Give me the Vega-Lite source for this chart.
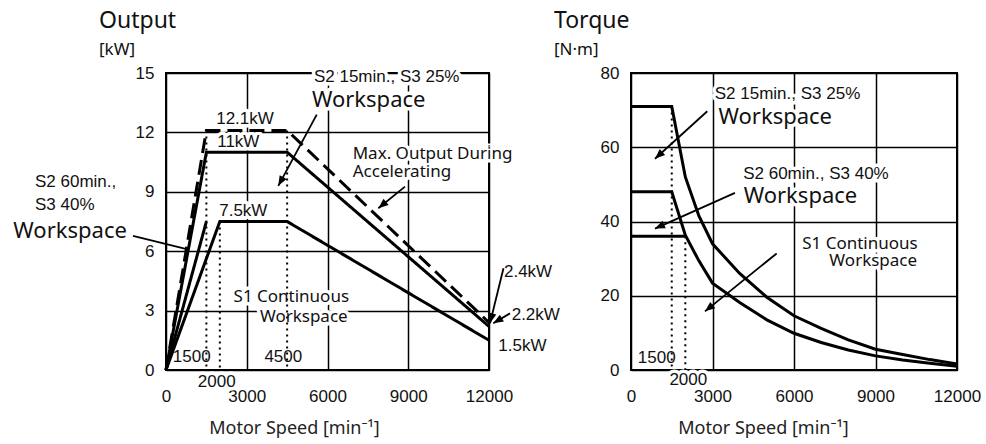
{
  "$schema": "https://vega.github.io/schema/vega-lite/v6.json",
  "padding": {"left": 12, "top": 9, "right": 5, "bottom": 5},
  "background": "white",
  "bounds": "flush",
  "spacing": 142,
  "config": {
    "view": {"stroke": "black", "strokeWidth": 2},
    "axis": {"grid": true, "gridColor": "black", "gridWidth": 1.5, "gridOpacity": 1, "domain": false, "ticks": false, "format": "d", "labelFlush": false,
      "labelFont": "Liberation Sans", "labelFontSize": 17, "labelColor": "#111",
      "titleFont": "Noto Sans", "titleFontWeight": "normal", "titleFontSize": 18, "titleColor": "#222"},
    "axisX": {"labelPadding": 18, "titleBaseline": "middle", "titleY": 58},
    "axisY": {"labelPadding": 12},
    "title": {"anchor": "start", "frame": "group", "font": "Noto Sans", "fontSize": 23, "fontWeight": "normal", "color": "#111",
      "subtitleFont": "Noto Sans", "subtitleFontSize": 17, "subtitleColor": "#111", "offset": 6, "subtitlePadding": 9}
  },
  "datasets": {
    "curvesL": [
      {"series": "S1", "i": 0, "x": 0, "y": 0}, {"series": "S1", "i": 1, "x": 2000, "y": 7.5}, {"series": "S1", "i": 2, "x": 4500, "y": 7.5}, {"series": "S1", "i": 3, "x": 12000, "y": 1.5},
      {"series": "S1b", "i": 0, "x": 0, "y": 0}, {"series": "S1b", "i": 1, "x": 1500, "y": 7.5},
      {"series": "S2_60", "i": 0, "x": 0, "y": 0}, {"series": "S2_60", "i": 1, "x": 1500, "y": 11}, {"series": "S2_60", "i": 2, "x": 4500, "y": 11}, {"series": "S2_60", "i": 3, "x": 12000, "y": 2.2},
      {"series": "Accel", "i": 0, "x": 0, "y": 0}, {"series": "Accel", "i": 1, "x": 1500, "y": 12.1}, {"series": "Accel", "i": 2, "x": 4500, "y": 12.1}, {"series": "Accel", "i": 3, "x": 12000, "y": 2.4}
    ],
    "dotsL": [
      {"x": 1500, "y": 12.1, "y2": 0}, {"x": 2000, "y": 7.5, "y2": 0}, {"x": 4500, "y": 12.1, "y2": 0}
    ],
    "arrowsL": [
      {"id": "a1", "x": 4172, "y": 9.3, "x2": 5600, "y2": 12.9},
      {"id": "a2", "x": 7888, "y": 8.17, "x2": 8879, "y2": 9.26},
      {"id": "a3", "x": 12037, "y": 2.36, "x2": 12538, "y2": 5.14},
      {"id": "a4", "x": 12160, "y": 2.36, "x2": 12780, "y2": 2.86},
      {"id": "a5", "x": 769, "y": 6.1, "x2": -1226, "y2": 6.77}
    ],
    "textL": [
      {"kind": "note", "text": "12.1kW", "x": 2935, "y": 12.7},
      {"kind": "note", "text": "11kW", "x": 2686, "y": 11.5},
      {"kind": "note", "text": "7.5kW", "x": 2873, "y": 8.05},
      {"kind": "note", "text": "S2 15min., S3 25%", "x": 8199, "y": 14.8},
      {"kind": "note", "text": "1500", "x": 955, "y": 0.67},
      {"kind": "note", "text": "4500", "x": 4358, "y": 0.67},
      {"kind": "note", "text": "2000", "x": 1883, "y": -0.6},
      {"kind": "noteL", "text": "S2 60min.,", "x": -4867, "y": 9.51},
      {"kind": "noteL", "text": "S3 40%", "x": -4867, "y": 8.33},
      {"kind": "noteL", "text": "2.4kW", "x": 12557, "y": 4.96},
      {"kind": "noteL", "text": "2.2kW", "x": 12843, "y": 2.78},
      {"kind": "noteL", "text": "1.5kW", "x": 12345, "y": 1.2},
      {"kind": "big", "text": "Workspace", "x": 7530, "y": 13.64},
      {"kind": "bigL", "text": "Workspace", "x": -5673, "y": 7.02},
      {"kind": "mid", "text": "S1 Continuous", "x": 4655, "y": 3.7},
      {"kind": "mid", "text": "Workspace", "x": 5119, "y": 2.7},
      {"kind": "midL", "text": "Max. Output During", "x": 6936, "y": 10.9},
      {"kind": "midL", "text": "Accelerating", "x": 6936, "y": 10.02}
    ],
    "curvesR": [
      {"series": "S2_15", "i": 0, "x": 0, "y": 71}, {"series": "S2_15", "i": 1, "x": 1500, "y": 71}, {"series": "S2_15", "i": 2, "x": 2000, "y": 52},
      {"series": "S2_15", "i": 3, "x": 2500, "y": 41.5}, {"series": "S2_15", "i": 4, "x": 3000, "y": 34}, {"series": "S2_15", "i": 5, "x": 4000, "y": 26},
      {"series": "S2_15", "i": 6, "x": 5000, "y": 19.6}, {"series": "S2_15", "i": 7, "x": 6000, "y": 14.6}, {"series": "S2_15", "i": 8, "x": 7000, "y": 11.2},
      {"series": "S2_15", "i": 9, "x": 8000, "y": 8.1}, {"series": "S2_15", "i": 10, "x": 9000, "y": 5.6}, {"series": "S2_15", "i": 11, "x": 10000, "y": 4.2},
      {"series": "S2_15", "i": 12, "x": 11000, "y": 2.8}, {"series": "S2_15", "i": 13, "x": 12000, "y": 1.6},
      {"series": "S2_60", "i": 0, "x": 0, "y": 48}, {"series": "S2_60", "i": 1, "x": 1500, "y": 48}, {"series": "S2_60", "i": 2, "x": 2000, "y": 36.3},
      {"series": "S2_60", "i": 3, "x": 2500, "y": 29.4}, {"series": "S2_60", "i": 4, "x": 3000, "y": 23.4}, {"series": "S2_60", "i": 5, "x": 4000, "y": 18.2},
      {"series": "S2_60", "i": 6, "x": 5000, "y": 13.5}, {"series": "S2_60", "i": 7, "x": 6000, "y": 9.9}, {"series": "S2_60", "i": 8, "x": 7000, "y": 7.4},
      {"series": "S2_60", "i": 9, "x": 8000, "y": 5.4}, {"series": "S2_60", "i": 10, "x": 9000, "y": 3.8}, {"series": "S2_60", "i": 11, "x": 10000, "y": 2.7},
      {"series": "S2_60", "i": 12, "x": 11000, "y": 1.8}, {"series": "S2_60", "i": 13, "x": 12000, "y": 1.0},
      {"series": "S1", "i": 0, "x": 0, "y": 36}, {"series": "S1", "i": 1, "x": 2000, "y": 36}
    ],
    "dotsR": [
      {"x": 1500, "y": 71, "y2": 0}, {"x": 2000, "y": 36, "y2": 0}
    ],
    "arrowsR": [
      {"id": "b1", "x": 883, "y": 56.9, "x2": 2808, "y2": 69.7},
      {"id": "b2", "x": 883, "y": 38.1, "x2": 3827, "y2": 47.7},
      {"id": "b3", "x": 2723, "y": 15.8, "x2": 5362, "y2": 31.4}
    ],
    "textR": [
      {"kind": "note", "text": "S2 15min., S3 25%", "x": 5760, "y": 74.3},
      {"kind": "note", "text": "S2 60min., S3 40%", "x": 6808, "y": 52.8},
      {"kind": "note", "text": "1500", "x": 946, "y": 3.2},
      {"kind": "note", "text": "2000", "x": 2109, "y": -2.7},
      {"kind": "big", "text": "Workspace", "x": 5310, "y": 68.2},
      {"kind": "big", "text": "Workspace", "x": 6238, "y": 47.0},
      {"kind": "mid", "text": "S1 Continuous", "x": 8427, "y": 33.9},
      {"kind": "mid", "text": "Workspace", "x": 8917, "y": 29.3}
    ]
  },
  "hconcat": [
    {
      "width": 323,
      "height": 297,
      "title": {"text": "Output", "subtitle": "[kW]", "dx": -67},
      "encoding": {
        "x": {"field": "x", "type": "quantitative", "scale": {"domain": [0, 12000], "nice": false, "zero": false},
          "axis": {"values": [0, 3000, 6000, 9000, 12000], "title": "Motor Speed  [min⁻¹]", "titleX": 128}},
        "y": {"field": "y", "type": "quantitative", "scale": {"domain": [0, 15], "nice": false, "zero": false},
          "axis": {"values": [0, 3, 6, 9, 12, 15], "title": null}}
      },
      "layer": [
        {"data": {"name": "textL"}, "transform": [{"filter": "datum.kind == 'note'"}], "mark": {"type": "text", "font": "Liberation Sans", "fontSize": 17, "align": "center", "baseline": "middle", "fill": "white", "stroke": "white", "strokeWidth": 7, "strokeJoin": "round"}, "encoding": {"text": {"field": "text"}}},
        {"data": {"name": "textL"}, "transform": [{"filter": "datum.kind == 'noteL'"}], "mark": {"type": "text", "font": "Liberation Sans", "fontSize": 17, "align": "left", "baseline": "middle", "fill": "white", "stroke": "white", "strokeWidth": 7, "strokeJoin": "round"}, "encoding": {"text": {"field": "text"}}},
        {"data": {"name": "textL"}, "transform": [{"filter": "datum.kind == 'big'"}], "mark": {"type": "text", "font": "Noto Sans", "fontSize": 22, "align": "center", "baseline": "middle", "fill": "white", "stroke": "white", "strokeWidth": 7, "strokeJoin": "round"}, "encoding": {"text": {"field": "text"}}},
        {"data": {"name": "textL"}, "transform": [{"filter": "datum.kind == 'mid'"}], "mark": {"type": "text", "font": "Noto Sans", "fontSize": 17, "align": "center", "baseline": "middle", "fill": "white", "stroke": "white", "strokeWidth": 7, "strokeJoin": "round"}, "encoding": {"text": {"field": "text"}}},
        {"data": {"name": "textL"}, "transform": [{"filter": "datum.kind == 'midL'"}], "mark": {"type": "text", "font": "Noto Sans", "fontSize": 17, "align": "left", "baseline": "middle", "fill": "white", "stroke": "white", "strokeWidth": 7, "strokeJoin": "round"}, "encoding": {"text": {"field": "text"}}},
        {"data": {"name": "curvesL"}, "mark": {"type": "line", "color": "black", "strokeWidth": 3, "strokeCap": "butt"},
          "encoding": {"detail": {"field": "series"}, "order": {"field": "i", "type": "quantitative"},
            "strokeDash": {"field": "series", "type": "nominal", "scale": {"domain": ["S1", "S1b", "S2_60", "Accel"], "range": [[1, 0], [1, 0], [1, 0], [15, 7]]}, "legend": null}}},
        {"data": {"name": "dotsL"}, "mark": {"type": "rule", "color": "black", "strokeWidth": 2, "strokeDash": [2, 4]}, "encoding": {"y2": {"field": "y2"}}},
        {"data": {"name": "arrowsL"}, "mark": {"type": "rule", "color": "black", "strokeWidth": 1.8}, "encoding": {"x2": {"field": "x2"}, "y2": {"field": "y2"}}},
        {"data": {"name": "arrowsL"}, "transform": [{"filter": "datum.id == 'a1'"}], "mark": {"type": "point", "shape": "M0,0L-0.4,1L0.4,1Z", "size": 400, "angle": -151, "filled": true, "color": "black", "opacity": 1}},
        {"data": {"name": "arrowsL"}, "transform": [{"filter": "datum.id == 'a2'"}], "mark": {"type": "point", "shape": "M0,0L-0.4,1L0.4,1Z", "size": 400, "angle": -129, "filled": true, "color": "black", "opacity": 1}},
        {"data": {"name": "arrowsL"}, "transform": [{"filter": "datum.id == 'a3'"}], "mark": {"type": "point", "shape": "M0,0L-0.4,1L0.4,1Z", "size": 400, "angle": -166, "filled": true, "color": "black", "opacity": 1}},
        {"data": {"name": "arrowsL"}, "transform": [{"filter": "datum.id == 'a4'"}], "mark": {"type": "point", "shape": "M0,0L-0.4,1L0.4,1Z", "size": 400, "angle": -121, "filled": true, "color": "black", "opacity": 1}},
        {"data": {"name": "textL"}, "transform": [{"filter": "datum.kind == 'note'"}], "mark": {"type": "text", "font": "Liberation Sans", "fontSize": 17, "align": "center", "baseline": "middle", "fill": "#111"}, "encoding": {"text": {"field": "text"}}},
        {"data": {"name": "textL"}, "transform": [{"filter": "datum.kind == 'noteL'"}], "mark": {"type": "text", "font": "Liberation Sans", "fontSize": 17, "align": "left", "baseline": "middle", "fill": "#111"}, "encoding": {"text": {"field": "text"}}},
        {"data": {"name": "textL"}, "transform": [{"filter": "datum.kind == 'big'"}], "mark": {"type": "text", "font": "Noto Sans", "fontSize": 22, "align": "center", "baseline": "middle", "fill": "#111"}, "encoding": {"text": {"field": "text"}}},
        {"data": {"name": "textL"}, "transform": [{"filter": "datum.kind == 'bigL'"}], "mark": {"type": "text", "font": "Noto Sans", "fontSize": 22, "align": "left", "baseline": "middle", "fill": "#111"}, "encoding": {"text": {"field": "text"}}},
        {"data": {"name": "textL"}, "transform": [{"filter": "datum.kind == 'mid'"}], "mark": {"type": "text", "font": "Noto Sans", "fontSize": 17, "align": "center", "baseline": "middle", "fill": "#111"}, "encoding": {"text": {"field": "text"}}},
        {"data": {"name": "textL"}, "transform": [{"filter": "datum.kind == 'midL'"}], "mark": {"type": "text", "font": "Noto Sans", "fontSize": 17, "align": "left", "baseline": "middle", "fill": "#111"}, "encoding": {"text": {"field": "text"}}}
      ]
    },
    {
      "width": 326,
      "height": 297,
      "title": {"text": "Torque", "subtitle": "[N·m]", "dx": -77},
      "encoding": {
        "x": {"field": "x", "type": "quantitative", "scale": {"domain": [0, 12000], "nice": false, "zero": false},
          "axis": {"values": [0, 3000, 6000, 9000, 12000], "title": "Motor Speed  [min⁻¹]", "titleX": 132}},
        "y": {"field": "y", "type": "quantitative", "scale": {"domain": [0, 80], "nice": false, "zero": false},
          "axis": {"values": [0, 20, 40, 60, 80], "title": null}}
      },
      "layer": [
        {"data": {"name": "textR"}, "transform": [{"filter": "datum.kind == 'note'"}], "mark": {"type": "text", "font": "Liberation Sans", "fontSize": 17, "align": "center", "baseline": "middle", "fill": "white", "stroke": "white", "strokeWidth": 7, "strokeJoin": "round"}, "encoding": {"text": {"field": "text"}}},
        {"data": {"name": "textR"}, "transform": [{"filter": "datum.kind == 'big'"}], "mark": {"type": "text", "font": "Noto Sans", "fontSize": 22, "align": "center", "baseline": "middle", "fill": "white", "stroke": "white", "strokeWidth": 7, "strokeJoin": "round"}, "encoding": {"text": {"field": "text"}}},
        {"data": {"name": "textR"}, "transform": [{"filter": "datum.kind == 'mid'"}], "mark": {"type": "text", "font": "Noto Sans", "fontSize": 17, "align": "center", "baseline": "middle", "fill": "white", "stroke": "white", "strokeWidth": 7, "strokeJoin": "round"}, "encoding": {"text": {"field": "text"}}},
        {"data": {"name": "curvesR"}, "mark": {"type": "line", "color": "black", "strokeWidth": 3, "strokeCap": "butt"},
          "encoding": {"detail": {"field": "series"}, "order": {"field": "i", "type": "quantitative"}}},
        {"data": {"name": "dotsR"}, "mark": {"type": "rule", "color": "black", "strokeWidth": 2, "strokeDash": [2, 4]}, "encoding": {"y2": {"field": "y2"}}},
        {"data": {"name": "arrowsR"}, "mark": {"type": "rule", "color": "black", "strokeWidth": 1.8}, "encoding": {"x2": {"field": "x2"}, "y2": {"field": "y2"}}},
        {"data": {"name": "arrowsR"}, "transform": [{"filter": "datum.id == 'b1'"}], "mark": {"type": "point", "shape": "M0,0L-0.4,1L0.4,1Z", "size": 400, "angle": -132, "filled": true, "color": "black", "opacity": 1}},
        {"data": {"name": "arrowsR"}, "transform": [{"filter": "datum.id == 'b2'"}], "mark": {"type": "point", "shape": "M0,0L-0.4,1L0.4,1Z", "size": 400, "angle": -114, "filled": true, "color": "black", "opacity": 1}},
        {"data": {"name": "arrowsR"}, "transform": [{"filter": "datum.id == 'b3'"}], "mark": {"type": "point", "shape": "M0,0L-0.4,1L0.4,1Z", "size": 400, "angle": -129, "filled": true, "color": "black", "opacity": 1}},
        {"data": {"name": "textR"}, "transform": [{"filter": "datum.kind == 'note'"}], "mark": {"type": "text", "font": "Liberation Sans", "fontSize": 17, "align": "center", "baseline": "middle", "fill": "#111"}, "encoding": {"text": {"field": "text"}}},
        {"data": {"name": "textR"}, "transform": [{"filter": "datum.kind == 'big'"}], "mark": {"type": "text", "font": "Noto Sans", "fontSize": 22, "align": "center", "baseline": "middle", "fill": "#111"}, "encoding": {"text": {"field": "text"}}},
        {"data": {"name": "textR"}, "transform": [{"filter": "datum.kind == 'mid'"}], "mark": {"type": "text", "font": "Noto Sans", "fontSize": 17, "align": "center", "baseline": "middle", "fill": "#111"}, "encoding": {"text": {"field": "text"}}}
      ]
    }
  ]
}
